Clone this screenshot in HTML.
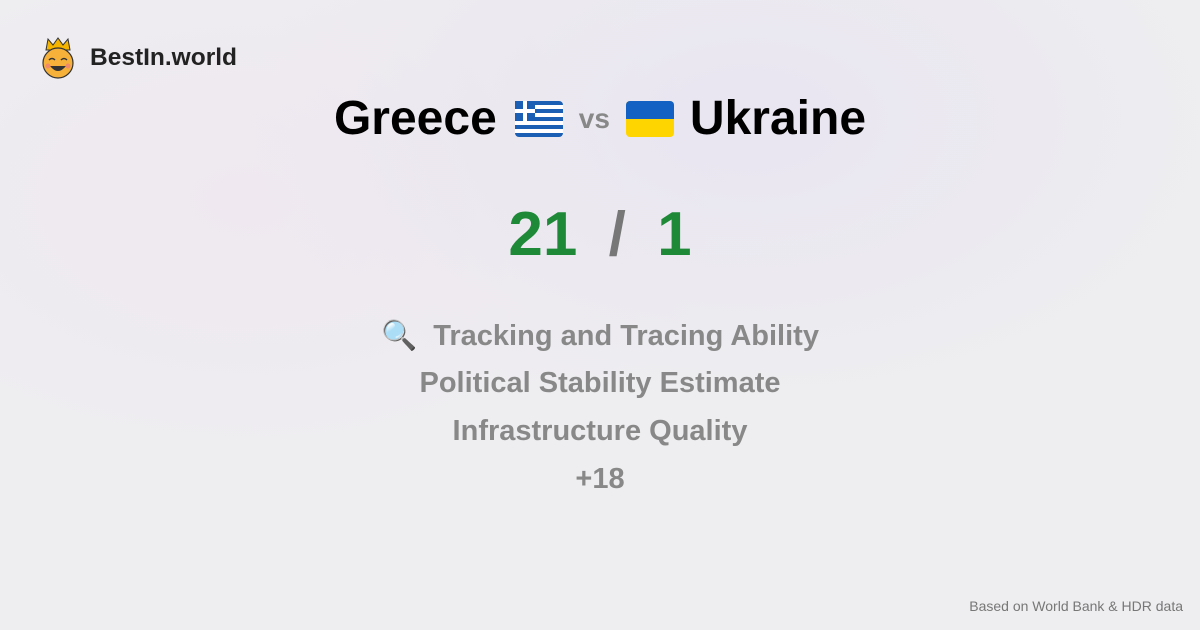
<!DOCTYPE html>
<html><head><meta charset="utf-8"><style>
body{margin:0;width:1200px;height:630px;overflow:hidden;font-family:"Liberation Sans",sans-serif;
background:radial-gradient(ellipse 500px 300px at 750px 120px,#e9e5f1,transparent),radial-gradient(ellipse 500px 300px at 250px 200px,#efe8f0,transparent),#eeeef0;position:relative}
.a{position:absolute}
.c{position:absolute;left:0;width:1200px;text-align:center;font-weight:bold}
</style></head><body>
<div class="a" style="left:38px;top:36px;height:44px;display:flex;align-items:center">
<svg width="40" height="44" viewBox="0 0 40 44"><path d="M8 14 L10 3 L15 9 L20 2 L25 9 L30 3 L32 14Z" fill="#f4b400" stroke="#333" stroke-width="1"/><circle cx="20" cy="27" r="15" fill="#f6b13a" stroke="#333" stroke-width="1.2"/><path d="M11 24 q3-3 6 0 M23 24 q3-3 6 0" stroke="#333" stroke-width="1.5" fill="none"/><path d="M12 30 q8 10 16 0Z" fill="#333"/><circle cx="10" cy="30" r="2.5" fill="#f08a6a"/><circle cx="30" cy="30" r="2.5" fill="#f08a6a"/></svg>
<span style="margin-left:12px;font-size:24.5px;font-weight:bold;color:#222">BestIn.world</span></div>
<div class="c" style="top:91px;font-size:48px;color:#000;display:flex;justify-content:center;align-items:center;gap:0">
<span>Greece</span>
<svg style="margin:0 16px 0 18px" width="48" height="36" viewBox="0 0 48 36"><rect width="48" height="36" rx="4" fill="#1a5fb4"/><g fill="#fff"><rect y="4" width="48" height="4"/><rect y="12" width="48" height="4"/><rect y="20" width="48" height="4"/><rect y="28" width="48" height="4"/></g><rect width="20" height="20" fill="#1a5fb4"/><rect x="8" width="4" height="20" fill="#fff"/><rect y="8" width="20" height="4" fill="#fff"/></svg>
<span style="font-size:28px;color:#888;font-weight:bold">vs</span>
<svg style="margin:0 16px 0 16px" width="48" height="36" viewBox="0 0 48 36"><rect width="48" height="36" rx="4" fill="#ffd500"/><path d="M4 0h40a4 4 0 0 1 4 4v14H0V4a4 4 0 0 1 4-4z" fill="#1461c4"/></svg>
<span>Ukraine</span></div>
<div class="c" style="top:199px;font-size:62px;color:#1e8a38">21 <span style="color:#777;margin:0 14px">/</span> 1</div>
<div class="c" style="top:319px;font-size:29px;color:#888">🔍&nbsp; Tracking and Tracing Ability</div>
<div class="c" style="top:367px;font-size:29px;color:#888">Political Stability Estimate</div>
<div class="c" style="top:415px;font-size:29px;color:#888">Infrastructure Quality</div>
<div class="c" style="top:463px;font-size:29px;color:#888">+18</div>
<div class="a" style="right:17px;top:598px;font-size:14px;color:#777">Based on World Bank &amp; HDR data</div>
</body></html>
